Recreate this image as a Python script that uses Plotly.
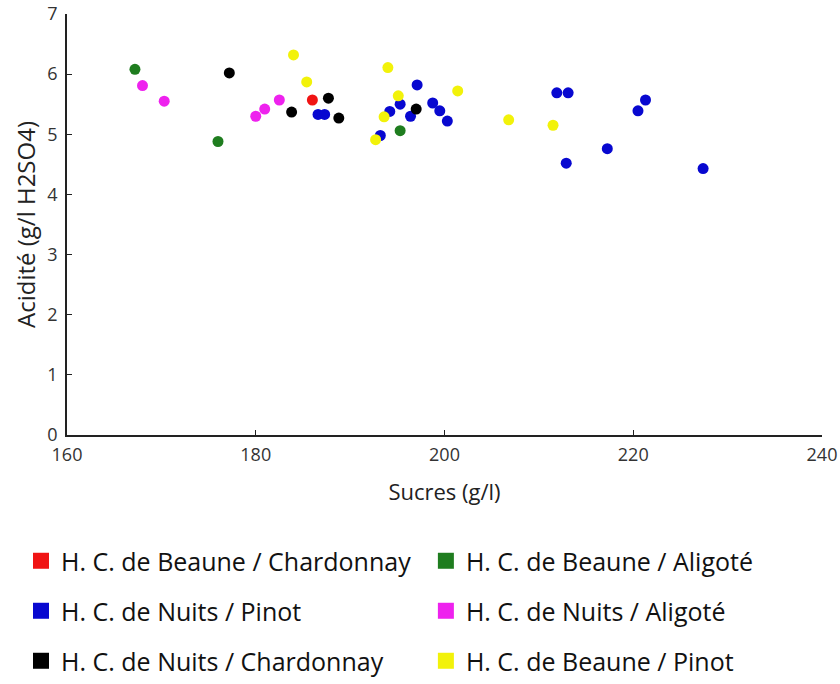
import plotly.graph_objects as go

# ---- data ----
series_names = [
    "H. C. de Beaune / Chardonnay",
    "H. C. de Beaune / Aligoté",
    "H. C. de Nuits / Pinot",
    "H. C. de Nuits / Aligoté",
    "H. C. de Nuits / Chardonnay",
    "H. C. de Beaune / Pinot",
]

beaune_chardonnay_x = [186.0]
beaune_chardonnay_y = [5.57]

beaune_aligote_x = [167.2, 176.0, 195.3]
beaune_aligote_y = [6.08, 4.88, 5.06]

nuits_pinot_x = [186.6, 187.3, 193.2, 194.2, 195.3, 196.4, 197.1, 198.75, 199.5, 200.3,
                 211.9, 213.1, 212.9, 217.25, 220.5, 221.3, 227.4]
nuits_pinot_y = [5.33, 5.33, 4.98, 5.38, 5.50, 5.30, 5.82, 5.52, 5.39, 5.22,
                 5.69, 5.69, 4.52, 4.76, 5.39, 5.57, 4.43]

nuits_aligote_x = [168.0, 170.3, 180.0, 180.95, 182.5]
nuits_aligote_y = [5.81, 5.55, 5.30, 5.42, 5.57]

nuits_chardonnay_x = [177.2, 183.8, 187.7, 188.8, 197.0]
nuits_chardonnay_y = [6.02, 5.37, 5.60, 5.27, 5.42]

beaune_pinot_x = [184.0, 185.4, 194.0, 195.1, 193.6, 192.7, 201.4, 206.8, 211.5]
beaune_pinot_y = [6.32, 5.87, 6.11, 5.64, 5.29, 4.91, 5.72, 5.24, 5.15]

x_ticks = [160, 180, 200, 220, 240]
y_ticks = [0, 1, 2, 3, 4, 5, 6, 7]

# ---- styling ----
colors = ["#f01414", "#1f7d1f", "#0808d0", "#ee22ee", "#000000", "#f2f20a"]
series_x = [beaune_chardonnay_x, beaune_aligote_x, nuits_pinot_x,
            nuits_aligote_x, nuits_chardonnay_x, beaune_pinot_x]
series_y = [beaune_chardonnay_y, beaune_aligote_y, nuits_pinot_y,
            nuits_aligote_y, nuits_chardonnay_y, beaune_pinot_y]
legend_ids = ["legend", "legend2", "legend3", "legend4", "legend5", "legend6"]
# legend grid: 2 columns x 3 rows below the plot (container coordinates)
legend_cols = [0.025, 0.507]
legend_rows = [0.1798, 0.1067, 0.0336]

FONT = "Open Sans, sans-serif"

fig = go.Figure()

# data traces
for name, xs, ys, c in zip(series_names, series_x, series_y, colors):
    fig.add_trace(go.Scatter(
        x=xs, y=ys, mode="markers", name=name, showlegend=False,
        marker=dict(color=c, size=11, line=dict(width=0)),
    ))

# legend entries
for name, c, lg in zip(series_names, colors, legend_ids):
    fig.add_trace(go.Scatter(
        x=[None], y=[None], mode="markers", name=name, legend=lg,
        marker=dict(color=c, size=16, symbol="square", line=dict(width=0)),
    ))

axis_common = dict(
    showgrid=False, zeroline=False, showline=True, linecolor="#222222", linewidth=1.5,
    ticks="inside", ticklen=5, tickcolor="#222222", tickwidth=1.2,
    tickfont=dict(family=FONT, size=18, color="#333333"),
    mirror=False, automargin=False,
)

fig.update_xaxes(range=[160, 240], tickvals=x_ticks, ticklabelstandoff=3, **axis_common,
                 title=dict(text="Sucres (g/l)", font=dict(family=FONT, size=22, color="#222222"),
                            standoff=19))
fig.update_yaxes(range=[0, 7], tickvals=y_ticks, ticklabelstandoff=4, **axis_common,
                 title=dict(text="Acidité (g/l H2SO4)", font=dict(family=FONT, size=24, color="#222222"),
                            standoff=5))

layout_legends = {}
for i, lg in enumerate(legend_ids):
    layout_legends[lg] = dict(
        orientation="h", xref="container", yref="container",
        x=legend_cols[i % 2], y=legend_rows[i // 2],
        xanchor="left", yanchor="middle",
        font=dict(family=FONT, size=25, color="#111111"),
        bgcolor="rgba(0,0,0,0)", itemclick=False, itemdoubleclick=False,
    )

fig.update_layout(
    width=840, height=684,
    margin=dict(l=67, r=18, t=14, b=249, autoexpand=False),
    paper_bgcolor="white", plot_bgcolor="white",
    font=dict(family=FONT),
    **layout_legends,
)

fig.write_html(
    "out.html",
    config={"displayModeBar": False},
    post_script="document.body.style.margin='0';document.body.style.overflow='hidden';",
)
